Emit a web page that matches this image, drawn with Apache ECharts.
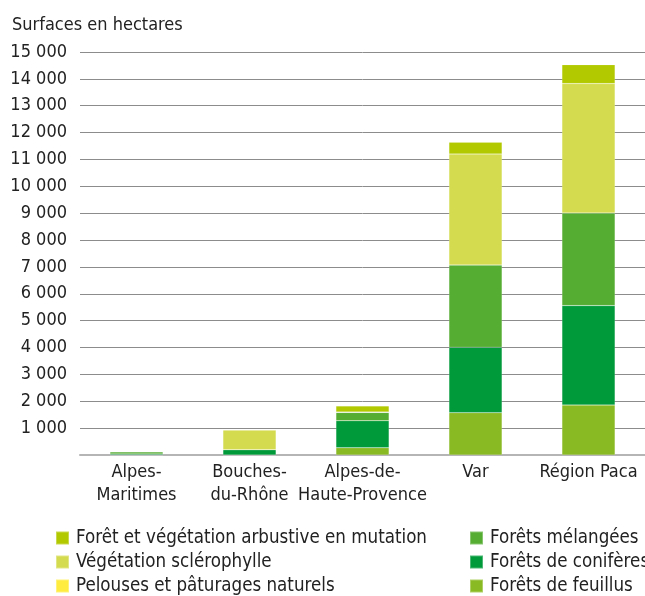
<!DOCTYPE html>
<html>
<head>
<meta charset="utf-8">
<script src="https://cdn.jsdelivr.net/npm/echarts@6/dist/echarts.min.js"></script>
<style>
  html, body { margin: 0; padding: 0; background: #fff; }
  #chart { width: 645px; height: 596px; }
</style>
</head>
<body>
<div id="chart"></div>
<script>
var categories = ['Alpes-\nMaritimes', 'Bouches-\ndu-Rhône', 'Alpes-de-\nHaute-Provence', 'Var', 'Région Paca'];
var yTicks = [0, 1000, 2000, 3000, 4000, 5000, 6000, 7000, 8000, 9000, 10000, 11000, 12000, 13000, 14000, 15000];

// valeurs en hectares
var feuillus     = [0,   0,   270, 1575, 1860];
var coniferes    = [40,  200, 1005, 2435, 3700];
var melangees    = [80,  0,   310, 3065, 3450];
var pelouses     = [0,   0,   0,   0,    0];
var sclerophylle = [0,   730, 20,  4130, 4815];
var mutation     = [0,   0,   220, 435,  705];

var FONT = '"DejaVu Sans Condensed", "Liberation Sans Narrow", sans-serif';

var myChart = echarts.init(document.getElementById('chart'));

function serie(name, data, color) {
  return {
    name: name,
    type: 'bar',
    stack: 'total',
    barWidth: '47%',
    data: data,
    itemStyle: {
      color: color,
      borderColor: 'rgba(255,255,255,0.3)',
      borderWidth: 0.5
    }
  };
}

function legende(left, names) {
  return {
    orient: 'vertical',
    left: left,
    top: 526,
    height: 80,
    padding: 0,
    itemWidth: 13,
    itemHeight: 13,
    itemGap: 0,
    icon: 'rect',
    data: names,
    textStyle: { fontFamily: FONT, fontSize: 18.6, color: '#222', lineHeight: 24, padding: [0, 0, 0, 2] }
  };
}

var option = {
  animation: false,
  title: {
    text: 'Surfaces en hectares',
    left: 7,
    top: 11,
    textStyle: { fontFamily: FONT, fontSize: 18, fontWeight: 'normal', color: '#222' }
  },
  grid: { left: 80, right: 0, top: 52, bottom: 141 },
  legend: [
    legende(55, ['Forêt et végétation arbustive en mutation', 'Végétation sclérophylle', 'Pelouses et pâturages naturels']),
    legende(469, ['Forêts mélangées', 'Forêts de conifères', 'Forêts de feuillus'])
  ],
  xAxis: {
    type: 'category',
    data: categories,
    axisTick: { show: false },
    axisLine: { lineStyle: { color: '#b5b5b5', width: 2 } },
    axisLabel: {
      interval: 0,
      fontFamily: FONT, fontSize: 18, color: '#222',
      lineHeight: 23, margin: 6
    }
  },
  yAxis: {
    type: 'value',
    min: yTicks[0],
    max: yTicks[yTicks.length - 1],
    interval: 1000,
    axisLine: { show: false },
    axisTick: { show: false },
    splitLine: { lineStyle: { color: '#8c8c8c', width: 1 } },
    axisLabel: {
      fontFamily: FONT, fontSize: 18, color: '#222', margin: 13,
      formatter: function (v) {
        if (v === 0) return '';
        return String(v).replace(/\B(?=(\d{3})+(?!\d))/g, ' ');
      }
    }
  },
  series: [
    serie('Forêts de feuillus', feuillus, '#8aba23'),
    serie('Forêts de conifères', coniferes, '#009a3a'),
    serie('Forêts mélangées', melangees, '#55ad32'),
    serie('Pelouses et pâturages naturels', pelouses, '#ffec3f'),
    serie('Végétation sclérophylle', sclerophylle, '#d4db4f'),
    serie('Forêt et végétation arbustive en mutation', mutation, '#b2c900')
  ]
};
myChart.setOption(option);
</script>
</body>
</html>
